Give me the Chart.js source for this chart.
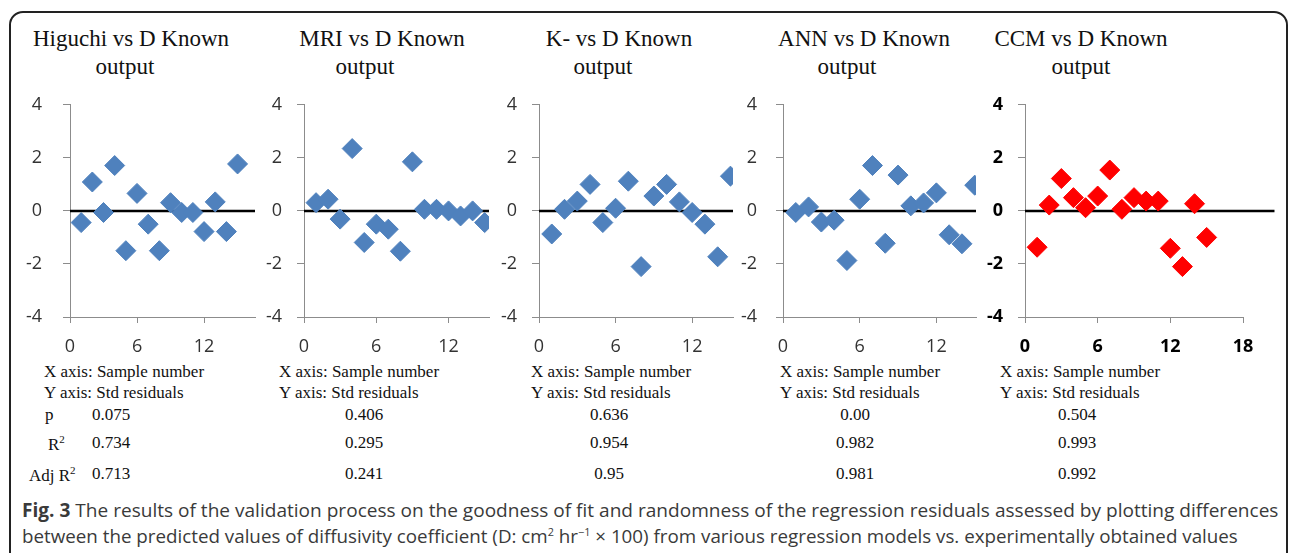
<!DOCTYPE html>
<html>
<head>
<meta charset="utf-8">
<script src="https://cdn.jsdelivr.net/npm/chart.js@4.4.1/dist/chart.umd.min.js"></script>
<style>
  body { margin: 0; background: #fff; width: 1292px; height: 553px; overflow: hidden; position: relative; }
  .frame { position: absolute; left: 9px; top: 11px; width: 1279px; height: 560px; border: 2px solid #222; border-radius: 14px; box-sizing: border-box; }
  canvas { position: absolute; }
  .t { position: absolute; font-family: "Liberation Serif", serif; color: #111; white-space: nowrap; }
  .title { font-size: 23px; transform: translateX(-50%); }
  .tab { font-size: 17px; }
  .val { font-size: 17px; transform: translateX(-50%); }
  .cap { position: absolute; left: 22px; font-family: "Open Sans", sans-serif; font-size: 19px; color: #3a3a3a; white-space: nowrap; transform-origin: 0 0; }
</style>
</head>
<body>
<div class="frame"></div>
<div id="texts"></div>
<div class="cap" id="cap1" style="top:497px"><b>Fig. 3</b> The results of the validation process on the goodness of fit and randomness of the regression residuals assessed by plotting differences</div>
<div class="cap" id="cap2" style="top:523px">between the predicted values of diffusivity coefficient (D: cm<sup style="font-size:11px">2</sup> hr<sup style="font-size:11px">&minus;1</sup> &times; 100) from various regression models vs. experimentally obtained values</div>
<script>
// chart data
const titles = ['Higuchi vs D Known', 'MRI vs D Known', 'K- vs D Known', 'ANN vs D Known', 'CCM vs D Known'];
const sampleNo = [1, 2, 3, 4, 5, 6, 7, 8, 9, 10, 11, 12, 13, 14, 15];
const higuchiRes = [-0.44, 1.09, -0.06, 1.71, -1.5, 0.66, -0.5, -1.5, 0.31, -0.06, -0.06, -0.78, 0.34, -0.78, 1.77];
const mriRes = [0.31, 0.44, -0.31, 2.35, -1.19, -0.5, -0.69, -1.52, 1.85, 0.06, 0.06, 0.0, -0.19, 0.0, -0.44];
const kRes = [-0.87, 0.06, 0.37, 1.0, -0.44, 0.1, 1.12, -2.1, 0.56, 1.0, 0.34, -0.06, -0.5, -1.73, 1.31];
const annRes = [-0.06, 0.15, -0.42, -0.35, -1.87, 0.44, 1.71, -1.22, 1.35, 0.19, 0.3, 0.68, -0.9, -1.24, 0.97];
const ccmRes = [-1.37, 0.22, 1.22, 0.5, 0.12, 0.56, 1.54, 0.06, 0.5, 0.37, 0.37, -1.41, -2.1, 0.27, -1.0];
const xTicks = [0, 6, 12, 18];
const yTicks = [-4, -2, 0, 2, 4];
const pVals = ['0.075', '0.406', '0.636', '0.00', '0.504'];
const r2Vals = ['0.734', '0.295', '0.954', '0.982', '0.993'];
const adjR2Vals = ['0.713', '0.241', '0.95', '0.981', '0.992'];

const residuals = [higuchiRes, mriRes, kRes, annRes, ccmRes];

// panel placement on the page
const panels = [
  { axisX: 70, unit: 11.47, xMax: 16.56, lineEnd: 16.56, padY: 21, padR: 6, color: '#4F81BD', bold: false, t1: 131, t2: 125, txt: 44, val: 111 },
  { axisX: 304, unit: 12.37, xMax: 15.36, lineEnd: 15.36, padY: 15, padR: 6, color: '#4F81BD', bold: false, t1: 382, t2: 365, txt: 279, val: 364 },
  { axisX: 539, unit: 13.06, xMax: 15.2, lineEnd: 15.2, padY: 15, padR: 6, color: '#4F81BD', bold: false, t1: 619, t2: 603, txt: 531, val: 609 },
  { axisX: 783, unit: 13.1, xMax: 15.1, lineEnd: 15.1, padY: 19, padR: 6, color: '#4F81BD', bold: false, t1: 864, t2: 847, txt: 780, val: 855 },
  { axisX: 1025, unit: 12.1, xMax: 18, lineEnd: 20.6, padY: 15, padR: 45, color: '#FF0000', bold: true, t1: 1081, t2: 1081, txt: 1000, val: 1077 }
];
const plotTop = 105, plotBottom = 317, yW = 60, xH = 48, labelHalf = 11;

const texts = document.getElementById('texts');
function addText(cls, html, left, top) {
  const d = document.createElement('div');
  d.className = 't ' + cls;
  d.innerHTML = html;
  d.style.left = left + 'px';
  d.style.top = top + 'px';
  texts.appendChild(d);
}

panels.forEach((p, i) => {
  // y scale reserves half a label plus the tick padding above the plot area
  const padTop = labelHalf + p.padY;
  const w = Math.round(yW + p.xMax * p.unit + p.padR);
  const h = padTop + (plotBottom - plotTop) + xH;
  const cv = document.createElement('canvas');
  cv.width = w; cv.height = h;
  cv.style.left = (p.axisX - yW) + 'px';
  cv.style.top = (plotTop - padTop) + 'px';
  cv.style.width = w + 'px'; cv.style.height = h + 'px';
  document.body.appendChild(cv);

  const tickFont = { family: 'Open Sans', size: 18, weight: p.bold ? 'bold' : 'normal' };
  const tickColor = p.bold ? '#000' : '#333';

  new Chart(cv, {
    type: 'scatter',
    data: {
      datasets: [{
        data: sampleNo.map((x, k) => ({ x: x, y: residuals[i][k] })),
        backgroundColor: p.color,
        borderColor: p.color,
        borderWidth: 1,
        pointStyle: 'rectRot',
        pointRadius: 10,
        pointHoverRadius: 10,
        order: 1
      }, {
        type: 'line',
        data: [{ x: 0, y: 0 }, { x: p.lineEnd, y: 0 }],
        borderColor: '#000',
        borderWidth: 2.5,
        pointRadius: 0,
        clip: false,
        order: 2
      }]
    },
    options: {
      responsive: false,
      animation: false,
      devicePixelRatio: 1,
      layout: { padding: { top: 0, right: p.padR, left: 0, bottom: 0 } },
      plugins: { legend: { display: false }, tooltip: { enabled: false } },
      scales: {
        x: {
          type: 'linear', min: 0, max: p.xMax,
          afterFit: s => { s.height = xH; },
          afterBuildTicks: s => { s.ticks = xTicks.filter(v => v <= p.xMax).map(v => ({ value: v })); },
          grid: { display: true, drawOnChartArea: false, drawTicks: true, tickLength: 6, color: '#8c8c8c' },
          border: { color: '#8c8c8c', width: 1 },
          ticks: { font: tickFont, color: tickColor, padding: 13, maxRotation: 0 }
        },
        y: {
          min: -4, max: 4,
          afterFit: s => { s.width = yW; },
          afterBuildTicks: s => { s.ticks = yTicks.map(v => ({ value: v })); },
          grid: { display: true, drawOnChartArea: false, drawTicks: true, tickLength: 7, color: '#8c8c8c' },
          border: { color: '#8c8c8c', width: 1 },
          ticks: { font: tickFont, color: tickColor, padding: p.padY }
        }
      }
    }
  });

  addText('title', titles[i], p.t1, 26);
  addText('title', 'output', p.t2, 54);
  addText('tab', 'X axis: Sample number', p.txt, 362);
  addText('tab', 'Y axis: Std residuals', p.txt, 383);
  addText('val', pVals[i], p.val, 405);
  addText('val', r2Vals[i], p.val, 433);
  addText('val', adjR2Vals[i], p.val, 464);
});

addText('tab', 'p', 45, 405);
addText('tab', 'R<sup style="font-size:11px">2</sup>', 48, 433);
addText('tab', 'Adj R<sup style="font-size:11px">2</sup>', 29, 464);

// squeeze caption lines to the frame width
['cap1', 'cap2'].forEach((id, k) => {
  const el = document.getElementById(id);
  const target = k === 0 ? 1256 : 1216;
  el.style.transform = 'scaleX(' + (target / el.scrollWidth) + ')';
});
</script>
</body>
</html>
